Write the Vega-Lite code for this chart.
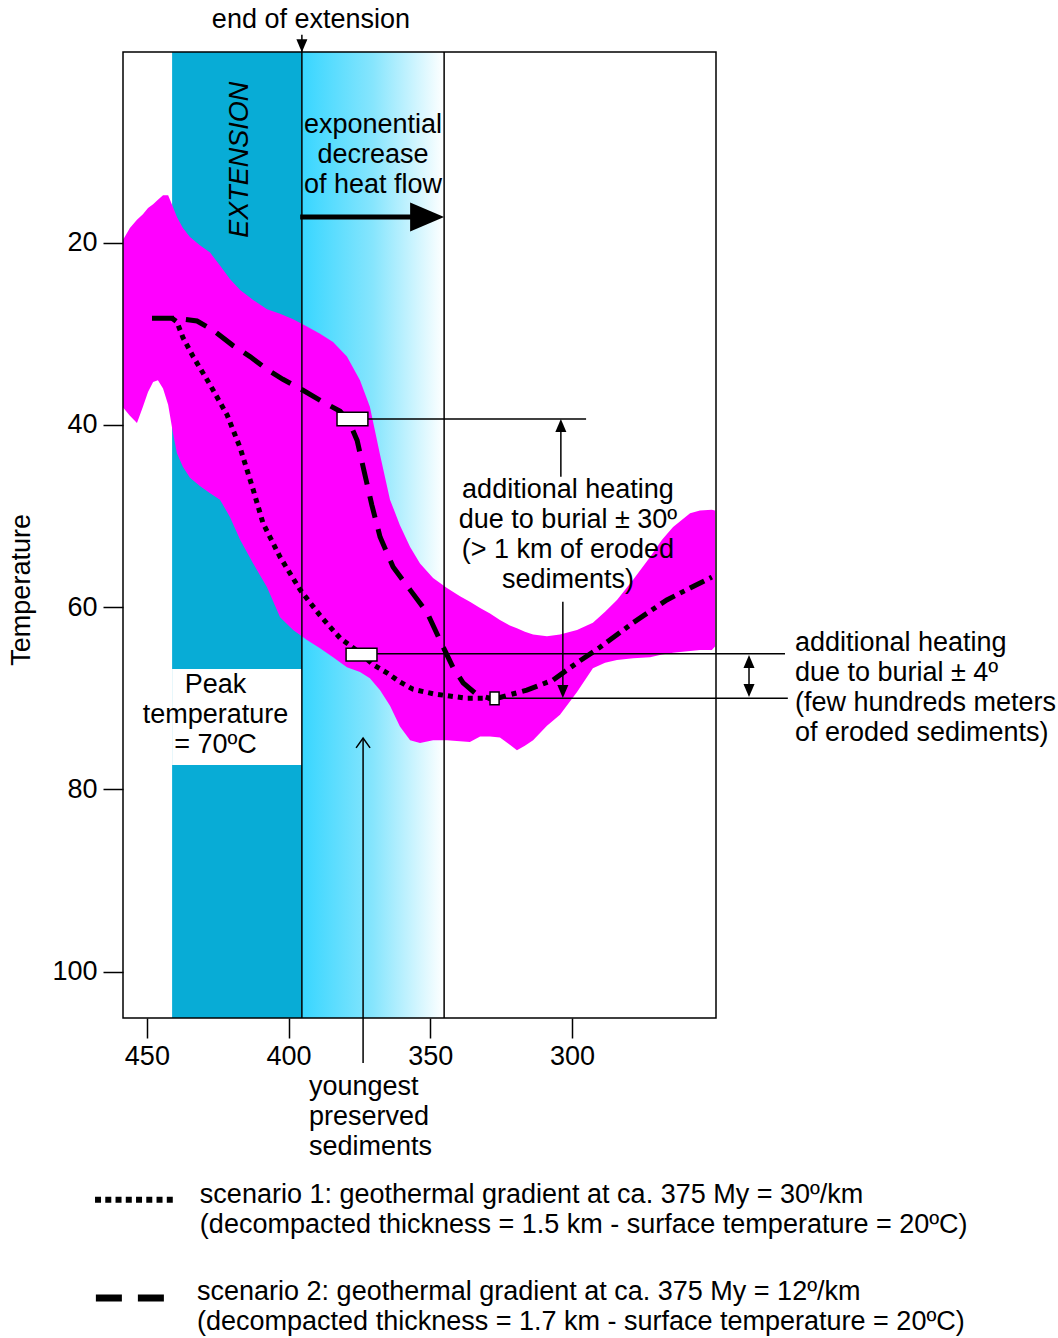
{
  "$schema": "https://vega.github.io/schema/vega-lite/v6.json",
  "width": 593,
  "height": 966,
  "autosize": {"type": "none"},
  "padding": {"left": 123, "top": 52, "right": 342, "bottom": 320},
  "background": "white",
  "datasets": {
    "band": [
      {"x": 458.4, "y": 19.7, "y2": 38.1}, {"x": 456.0, "y": 18.4, "y2": 39.0},
      {"x": 453.5, "y": 17.5, "y2": 39.8}, {"x": 451.4, "y": 16.9, "y2": 38.0},
      {"x": 449.6, "y": 16.2, "y2": 36.4}, {"x": 447.8, "y": 15.8, "y2": 35.3},
      {"x": 446.1, "y": 15.3, "y2": 35.1}, {"x": 444.3, "y": 14.8, "y2": 36.0},
      {"x": 442.5, "y": 14.8, "y2": 37.8}, {"x": 440.8, "y": 16.1, "y2": 40.9},
      {"x": 439.4, "y": 17.2, "y2": 43.1}, {"x": 437.3, "y": 18.4, "y2": 44.6},
      {"x": 434.8, "y": 19.4, "y2": 45.8}, {"x": 431.3, "y": 20.3, "y2": 46.7},
      {"x": 427.7, "y": 21.1, "y2": 47.5}, {"x": 424.2, "y": 22.5, "y2": 48.2},
      {"x": 420.7, "y": 24.0, "y2": 50.1}, {"x": 417.1, "y": 25.2, "y2": 52.6},
      {"x": 412.5, "y": 26.3, "y2": 55.2}, {"x": 407.6, "y": 27.3, "y2": 57.8},
      {"x": 403.0, "y": 27.8, "y2": 61.1}, {"x": 398.4, "y": 28.4, "y2": 62.5},
      {"x": 393.5, "y": 29.2, "y2": 63.6}, {"x": 388.9, "y": 30.0, "y2": 64.5},
      {"x": 384.3, "y": 30.9, "y2": 65.5}, {"x": 379.4, "y": 32.5, "y2": 66.6},
      {"x": 374.8, "y": 35.1, "y2": 67.1}, {"x": 371.3, "y": 38.0, "y2": 67.8},
      {"x": 367.7, "y": 43.3, "y2": 69.1}, {"x": 364.2, "y": 48.2, "y2": 70.8},
      {"x": 360.7, "y": 51.0, "y2": 73.1}, {"x": 357.1, "y": 53.4, "y2": 74.6},
      {"x": 353.6, "y": 55.2, "y2": 74.9}, {"x": 349.0, "y": 56.8, "y2": 74.6},
      {"x": 344.1, "y": 57.9, "y2": 74.6}, {"x": 339.5, "y": 58.8, "y2": 74.7},
      {"x": 336.0, "y": 59.4, "y2": 74.8}, {"x": 332.4, "y": 60.1, "y2": 74.2},
      {"x": 328.9, "y": 60.7, "y2": 74.2}, {"x": 325.4, "y": 61.4, "y2": 74.3},
      {"x": 321.9, "y": 62.0, "y2": 75.1}, {"x": 319.4, "y": 62.3, "y2": 75.7},
      {"x": 316.6, "y": 62.7, "y2": 75.2}, {"x": 313.7, "y": 63.0, "y2": 74.6},
      {"x": 308.8, "y": 63.2, "y2": 73.0}, {"x": 304.2, "y": 63.0, "y2": 71.8},
      {"x": 298.2, "y": 62.5, "y2": 69.3}, {"x": 292.6, "y": 61.7, "y2": 66.7},
      {"x": 288.3, "y": 60.5, "y2": 66.1}, {"x": 284.1, "y": 59.2, "y2": 65.8},
      {"x": 278.4, "y": 57.0, "y2": 65.6}, {"x": 272.4, "y": 54.5, "y2": 65.5},
      {"x": 268.2, "y": 52.6, "y2": 65.2}, {"x": 264.3, "y": 51.2, "y2": 65.0},
      {"x": 258.3, "y": 49.7, "y2": 64.8}, {"x": 254.8, "y": 49.4, "y2": 64.7},
      {"x": 250.6, "y": 49.3, "y2": 64.7}, {"x": 249.5, "y": 49.4, "y2": 64.3}
    ],
    "curves": [
      {"s": "scenario 2", "x": 448.2, "y": 28.3}, {"s": "scenario 2", "x": 439.4, "y": 28.3},
      {"s": "scenario 2", "x": 432.3, "y": 28.6}, {"s": "scenario 2", "x": 426.7, "y": 29.6},
      {"s": "scenario 2", "x": 419.6, "y": 31.3}, {"s": "scenario 2", "x": 413.6, "y": 32.5},
      {"s": "scenario 2", "x": 407.6, "y": 33.9}, {"s": "scenario 2", "x": 402.0, "y": 35.0},
      {"s": "scenario 2", "x": 394.9, "y": 36.2}, {"s": "scenario 2", "x": 387.8, "y": 37.5},
      {"s": "scenario 2", "x": 381.8, "y": 38.5}, {"s": "scenario 2", "x": 378.3, "y": 39.9},
      {"s": "scenario 2", "x": 375.8, "y": 41.7}, {"s": "scenario 2", "x": 373.7, "y": 44.6},
      {"s": "scenario 2", "x": 370.6, "y": 48.8}, {"s": "scenario 2", "x": 367.7, "y": 52.3},
      {"s": "scenario 2", "x": 363.1, "y": 55.6}, {"s": "scenario 2", "x": 357.1, "y": 58.1},
      {"s": "scenario 2", "x": 351.1, "y": 60.6}, {"s": "scenario 2", "x": 346.6, "y": 63.6},
      {"s": "scenario 2", "x": 342.0, "y": 66.6}, {"s": "scenario 2", "x": 338.4, "y": 68.3},
      {"s": "scenario 2", "x": 333.5, "y": 69.6}, {"s": "scenario 2", "x": 328.9, "y": 70.0},
      {"s": "scenario 1", "x": 441.1, "y": 28.3}, {"s": "scenario 1", "x": 439.4, "y": 28.7},
      {"s": "scenario 1", "x": 437.3, "y": 30.4}, {"s": "scenario 1", "x": 433.7, "y": 32.5},
      {"s": "scenario 1", "x": 427.7, "y": 35.6}, {"s": "scenario 1", "x": 421.7, "y": 38.9},
      {"s": "scenario 1", "x": 417.1, "y": 42.5}, {"s": "scenario 1", "x": 412.5, "y": 47.1},
      {"s": "scenario 1", "x": 409.0, "y": 50.8}, {"s": "scenario 1", "x": 403.0, "y": 54.5},
      {"s": "scenario 1", "x": 395.9, "y": 58.1}, {"s": "scenario 1", "x": 388.9, "y": 60.9},
      {"s": "scenario 1", "x": 381.8, "y": 63.4}, {"s": "scenario 1", "x": 374.4, "y": 65.1},
      {"s": "scenario 1", "x": 370.2, "y": 66.3}, {"s": "scenario 1", "x": 365.3, "y": 67.2},
      {"s": "scenario 1", "x": 360.7, "y": 68.2}, {"s": "scenario 1", "x": 356.1, "y": 69.0},
      {"s": "scenario 1", "x": 349.0, "y": 69.5}, {"s": "scenario 1", "x": 337.0, "y": 70.0},
      {"s": "scenario 1", "x": 328.9, "y": 70.0},
      {"s": "both", "x": 328.9, "y": 70.0}, {"s": "both", "x": 325.4, "y": 69.9},
      {"s": "both", "x": 315.9, "y": 69.1}, {"s": "both", "x": 306.7, "y": 68.0},
      {"s": "both", "x": 298.2, "y": 66.1}, {"s": "both", "x": 290.1, "y": 64.4},
      {"s": "both", "x": 278.4, "y": 61.7}, {"s": "both", "x": 266.5, "y": 59.2},
      {"s": "both", "x": 258.3, "y": 57.9}, {"s": "both", "x": 250.6, "y": 56.7}
    ],
    "guides": [
      {"x": 395.3, "x2": 395.3, "y": -2.8, "y2": 105.07},
      {"x": 345.1, "x2": 345.1, "y": -0.91, "y2": 105.07},
      {"x": 372.0, "x2": 295.0, "y": 39.35, "y2": 39.35},
      {"x": 303.9, "x2": 303.9, "y": 45.7, "y2": 40.2},
      {"x": 303.2, "x2": 303.2, "y": 59.4, "y2": 69.2},
      {"x": 368.8, "x2": 224.8, "y": 65.1, "y2": 65.1},
      {"x": 325.4, "x2": 223.8, "y": 70.0, "y2": 70.0},
      {"x": 237.5, "x2": 237.5, "y": 65.6, "y2": 69.5},
      {"x": 373.7, "x2": 373.7, "y": 74.35, "y2": 110.0}
    ],
    "boxes": [
      {"x": 382.9, "x2": 372.0, "y": 38.6, "y2": 40.1},
      {"x": 379.7, "x2": 368.8, "y": 64.5, "y2": 65.9},
      {"x": 328.9, "x2": 325.7, "y": 69.3, "y2": 70.7}
    ]
  },
  "encoding": {
    "x": {
      "field": "x",
      "type": "quantitative",
      "scale": {"domain": [458.43, 249.15], "nice": false, "zero": false},
      "axis": {
        "values": [450, 400, 350, 300],
        "title": null,
        "grid": false,
        "domain": false,
        "tickSize": 20,
        "tickWidth": 1.5,
        "tickColor": "black",
        "labelFont": "Liberation Sans",
        "labelFontSize": 27,
        "labelColor": "black",
        "labelPadding": 5,
        "labelFlush": false,
        "labelOverlap": false
      }
    },
    "y": {
      "field": "y",
      "type": "quantitative",
      "scale": {"domain": [-0.91, 105.07], "reverse": true, "nice": false, "zero": false},
      "axis": {
        "values": [20, 40, 60, 80, 100],
        "title": null,
        "grid": false,
        "domain": false,
        "tickSize": 20,
        "tickWidth": 1.5,
        "tickColor": "black",
        "labelFont": "Liberation Sans",
        "labelFontSize": 27,
        "labelColor": "black",
        "labelPadding": 6,
        "labelFlush": false,
        "labelOverlap": false
      }
    }
  },
  "layer": [
    {
      "data": {"values": [{"x": 441.1, "x2": 395.3, "y": -0.91, "y2": 105.07}]},
      "mark": {"type": "rect", "color": "#08acd6"},
      "encoding": {"x2": {"field": "x2"}, "y2": {"field": "y2"}}
    },
    {
      "data": {"values": [{"x": 395.3, "x2": 345.1, "y": -0.91, "y2": 105.07}]},
      "mark": {
        "type": "rect",
        "fill": {
          "gradient": "linear",
          "x1": 0, "y1": 0, "x2": 1, "y2": 0,
          "stops": [
            {"offset": 0, "color": "#38d6ff"},
            {"offset": 0.5, "color": "#86e5fd"},
            {"offset": 1, "color": "#ffffff"}
          ]
        }
      },
      "encoding": {"x2": {"field": "x2"}, "y2": {"field": "y2"}}
    },
    {
      "data": {"values": [{"x": 441.1, "x2": 395.3, "y": 66.78, "y2": 77.3}]},
      "mark": {"type": "rect", "color": "white"},
      "encoding": {"x2": {"field": "x2"}, "y2": {"field": "y2"}}
    },
    {
      "data": {"name": "band"},
      "mark": {"type": "area", "color": "#ff00ff", "opacity": 1},
      "encoding": {"y2": {"field": "y2"}}
    },
    {
      "data": {"name": "guides"},
      "mark": {"type": "rule", "color": "black", "strokeWidth": 1.5},
      "encoding": {"x2": {"field": "x2"}, "y2": {"field": "y2"}}
    },
    {
      "data": {"name": "curves"},
      "mark": {"type": "line", "color": "black", "strokeWidth": 5, "strokeCap": "butt"},
      "encoding": {
        "strokeDash": {
          "field": "s",
          "type": "nominal",
          "scale": {"domain": ["scenario 1", "scenario 2", "both"], "range": [[5, 5], [22, 12], [16, 6, 5, 6]]},
          "legend": null
        }
      }
    },
    {
      "data": {"name": "boxes"},
      "mark": {"type": "rect", "fill": "white", "stroke": "black", "strokeWidth": 1.5},
      "encoding": {"x2": {"field": "x2"}, "y2": {"field": "y2"}}
    },
    {
      "data": {"values": [{"x": 395.9, "x2": 356.0, "y": 17.2}]},
      "mark": {"type": "rule", "color": "black", "strokeWidth": 5},
      "encoding": {"x2": {"field": "x2"}}
    },
    {
      "data": {"values": [{"x": 351.1, "y": 17.2}]},
      "mark": {"type": "point", "shape": "M-1,-0.85L1,0L-1,0.85Z", "filled": true, "color": "black", "opacity": 1, "size": 1156}
    },
    {
      "data": {"values": [{"x": 303.9, "y": 40.07}, {"x": 237.5, "y": 65.96}]},
      "mark": {"type": "point", "shape": "M-0.85,1L0,-1L0.85,1Z", "filled": true, "color": "black", "opacity": 1, "size": 169}
    },
    {
      "data": {"values": [{"x": 303.2, "y": 69.25}, {"x": 237.5, "y": 69.14}, {"x": 395.3, "y": -1.6}]},
      "mark": {"type": "point", "shape": "M-0.85,-1L0,1L0.85,-1Z", "filled": true, "color": "black", "opacity": 1, "size": 169}
    },
    {
      "data": {"values": [{"x": 373.7, "y": 74.9}]},
      "mark": {"type": "point", "shape": "M-1,0.7L0,-0.7L1,0.7", "filled": false, "color": "black", "strokeWidth": 1.5, "opacity": 1, "size": 196}
    },
    {
      "data": {"values": [{"x": 468.3, "x2": 439.4, "y": 125.0}]},
      "mark": {"type": "rule", "color": "black", "strokeWidth": 6, "strokeDash": [6, 4.25], "strokeCap": "butt"},
      "encoding": {"x2": {"field": "x2"}}
    },
    {
      "data": {"values": [{"x": 468.0, "x2": 443.6, "y": 135.8}]},
      "mark": {"type": "rule", "color": "black", "strokeWidth": 7, "strokeDash": [26, 16], "strokeCap": "butt"},
      "encoding": {"x2": {"field": "x2"}}
    },
    {
      "data": {"values": [
        {"x": 392.1, "y": -4.4, "label": "end of extension"},
        {"x": 370.2, "y": 7.1, "label": "exponential\ndecrease\nof heat flow"},
        {"x": 301.4, "y": 47.14, "label": "additional heating\ndue to burial ± 30º\n(> 1 km of eroded\nsediments)"},
        {"x": 425.8, "y": 68.54, "label": "Peak\ntemperature\n= 70ºC"}
      ]},
      "mark": {"type": "text", "align": "center", "baseline": "middle", "lineBreak": "\n", "font": "Liberation Sans", "fontSize": 27, "lineHeight": 30, "color": "black"},
      "encoding": {"text": {"field": "label"}}
    },
    {
      "data": {"values": [
        {"x": 221.3, "y": 63.93, "label": "additional heating\ndue to burial ± 4º\n(few hundreds meters\nof eroded sediments)"},
        {"x": 392.8, "y": 112.64, "label": "youngest\npreserved\nsediments"},
        {"x": 431.3, "y": 124.49, "label": "scenario 1: geothermal gradient at ca. 375 My = 30º/km\n(decompacted thickness = 1.5 km - surface temperature = 20ºC)"},
        {"x": 432.3, "y": 135.13, "label": "scenario 2: geothermal gradient at ca. 375 My = 12º/km\n(decompacted thickness = 1.7 km - surface temperature = 20ºC)"}
      ]},
      "mark": {"type": "text", "align": "left", "baseline": "middle", "lineBreak": "\n", "font": "Liberation Sans", "fontSize": 27, "lineHeight": 30, "color": "black"},
      "encoding": {"text": {"field": "label"}}
    },
    {
      "data": {"values": [{"x": 417.1, "y": 10.9, "label": "EXTENSION"}]},
      "mark": {"type": "text", "align": "center", "baseline": "middle", "angle": 270, "font": "Liberation Sans", "fontStyle": "italic", "fontSize": 27, "color": "black"},
      "encoding": {"text": {"field": "label"}}
    },
    {
      "data": {"values": [{"x": 494.1, "y": 58.1, "label": "Temperature"}]},
      "mark": {"type": "text", "align": "center", "baseline": "middle", "angle": 270, "font": "Liberation Sans", "fontSize": 27, "color": "black"},
      "encoding": {"text": {"field": "label"}}
    },
    {
      "data": {"values": [{"x": 458.43, "x2": 249.15, "y": -0.91, "y2": 105.07}]},
      "mark": {"type": "rect", "filled": false, "stroke": "black", "strokeWidth": 1.5},
      "encoding": {"x2": {"field": "x2"}, "y2": {"field": "y2"}}
    }
  ],
  "config": {
    "view": {"stroke": null},
    "font": "Liberation Sans"
  }
}
